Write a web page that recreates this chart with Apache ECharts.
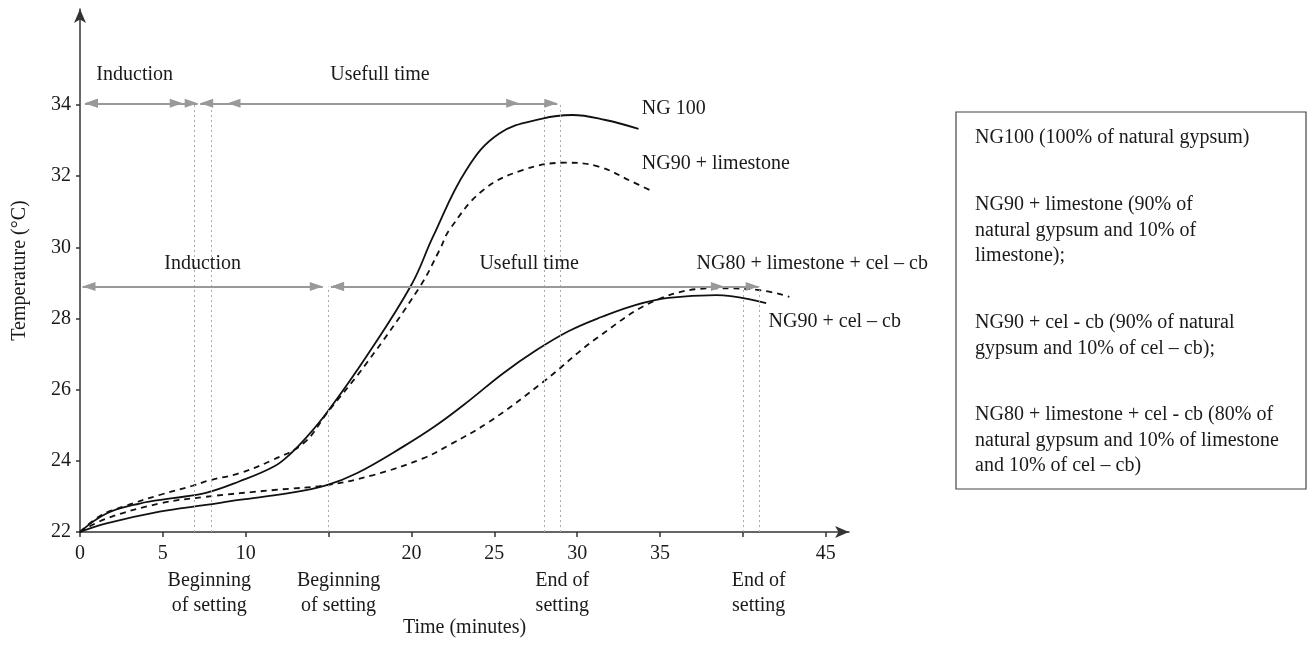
<!DOCTYPE html>
<html>
<head>
<meta charset="utf-8">
<script src="https://cdn.jsdelivr.net/npm/echarts@6/dist/echarts.min.js"></script>
<style>
  html, body { margin: 0; padding: 0; background: #fff; }
  #chart { width: 1309px; height: 648px; }
</style>
</head>
<body>
<div id="chart"></div>
<script>
// [time (min), temperature (°C)]
const ng100 = [[0, 22.0], [1.6, 22.52], [3.6, 22.8], [5.6, 22.95], [7.6, 23.1], [9.6, 23.42], [11.7, 23.84],
  [12.7, 24.2], [13.7, 24.68], [14.9, 25.36], [17.3, 26.95], [20.0, 28.95], [21.3, 30.3], [23.3, 32.17],
  [25.3, 33.2], [27.9, 33.62], [29.7, 33.72], [31.7, 33.58], [33.7, 33.33]];
const ng90Limestone = [[0, 22.0], [1.2, 22.45], [2.6, 22.71], [4.8, 23.04], [6.8, 23.3], [7.8, 23.45], [9.6, 23.65],
  [11.5, 24.0], [13.5, 24.5], [14.9, 25.34], [17.3, 26.75], [20.5, 28.89], [21.7, 29.93], [22.3, 30.5],
  [24.3, 31.6], [26.7, 32.17], [29.3, 32.38], [31.3, 32.27], [33.3, 31.85], [34.6, 31.56]];
const ng90CelCb = [[0, 22.0], [1.6, 22.24], [4.8, 22.57], [7.6, 22.76], [9.6, 22.9], [12.6, 23.09], [14.9, 23.32],
  [16.7, 23.65], [19.5, 24.4], [21.5, 25.0], [23.5, 25.7], [25.5, 26.45], [27.5, 27.1], [29.5, 27.65],
  [31.5, 28.05], [33.5, 28.38], [35.5, 28.58], [38.4, 28.66], [41.4, 28.43]];
const ng80LimestoneCelCb = [[0, 22.0], [1.6, 22.38], [4.8, 22.8], [7.6, 22.99], [11.7, 23.18], [14.9, 23.32],
  [17.7, 23.6], [20.7, 24.07], [22.3, 24.45], [24.7, 25.1], [27.9, 26.2], [31.3, 27.49], [34.9, 28.54],
  [38.4, 28.85], [41.0, 28.8], [42.8, 28.61]];

const xTickValues = [0, 5, 10, 15, 20, 25, 30, 35, 40, 45];
const xLabelValues = [0, 5, 10, 20, 25, 30, 35, 45];
const yTickValues = [22, 24, 26, 28, 30, 32, 34];

// beginning / end of setting (dotted lines)
const settingUpper = [6.9, 7.9, 28, 29];
const settingLower = [15, 40, 41];
const upperArrowY = 34.05;
const lowerArrowY = 28.9;
// arrow spans [from, to]
const upperArrows = [[0.3, 6.2], [0.3, 7.1], [7.25, 26.5], [8.9, 28.8]];
const lowerArrows = [[0.15, 14.65], [15.15, 38.85], [15.15, 40.95]];

const phaseLabels = [
  { name: 'Induction', value: [3.3, 34.85] },
  { name: 'Usefull time', value: [18.1, 34.85] },
  { name: 'Induction', value: [7.4, 29.55] },
  { name: 'Usefull time', value: [27.1, 29.55] }
];
const curveLabels = [
  { name: 'NG 100', value: [33.9, 33.9] },
  { name: 'NG90 + limestone', value: [33.9, 32.35] },
  { name: 'NG80 + limestone + cel \u2013 cb', value: [37.2, 29.55] },
  { name: 'NG90 + cel \u2013 cb', value: [41.55, 27.9] }
];
const settingLabels = [
  { name: 'Beginning\nof setting', value: [7.8, 22] },
  { name: 'Beginning\nof setting', value: [15.6, 22] },
  { name: 'End of\nsetting', value: [29.1, 22] },
  { name: 'End of\nsetting', value: [40.95, 22] }
];
const legendBlocks = [
  ['NG100 (100% of natural gypsum)'],
  ['NG90 + limestone (90% of', 'natural gypsum and 10% of', 'limestone);'],
  ['NG90 + cel - cb (90% of natural', 'gypsum and 10% of cel \u2013 cb);'],
  ['NG80 + limestone + cel - cb (80% of', 'natural gypsum and 10% of limestone', 'and 10% of cel \u2013 cb)']
];

const FONT = 'Liberation Serif';
const INK = '#1a1a1a';
const textStyle = { fontFamily: FONT, fontSize: 20, color: INK };

const guides = [];
settingUpper.forEach(x => guides.push([{ coord: [x, 22] }, { coord: [x, upperArrowY] }]));
settingLower.forEach(x => guides.push([{ coord: [x, 22] }, { coord: [x, lowerArrowY] }]));

const arrows = [];
upperArrows.forEach(a => arrows.push([{ coord: [a[0], upperArrowY] }, { coord: [a[1], upperArrowY] }]));
lowerArrows.forEach(a => arrows.push([{ coord: [a[0], lowerArrowY] }, { coord: [a[1], lowerArrowY] }]));

function curve(name, data, dashed) {
  return {
    name: name,
    type: 'line',
    data: data,
    smooth: 0.4,
    showSymbol: false,
    z: 4,
    lineStyle: { color: '#111', width: 1.8, type: dashed ? [6, 5] : 'solid' }
  };
}

function labelSeries(data, label) {
  return {
    type: 'scatter',
    data: data,
    symbolSize: 0,
    clip: false,
    silent: true,
    z: 5,
    itemStyle: { opacity: 1 },
    label: Object.assign({ show: true, formatter: '{b}', opacity: 1 }, textStyle, label)
  };
}

// legend box, built as plain graphics
const legendGraphics = [{
  type: 'rect',
  shape: { x: 956, y: 112, width: 350, height: 377 },
  style: { fill: 'none', stroke: '#444', lineWidth: 1.2 }
}];
const blockTops = [138, 205, 323, 415];
legendBlocks.forEach((lines, i) => {
  legendGraphics.push({
    type: 'text',
    x: 975,
    y: blockTops[i] - 12.75,
    style: {
      text: lines.join('\n'),
      font: '20px "' + FONT + '"',
      fill: INK,
      lineHeight: 25.5,
      align: 'left',
      verticalAlign: 'top'
    }
  });
});

const chart = echarts.init(document.getElementById('chart'));
chart.setOption({
  animation: false,
  backgroundColor: '#fff',
  grid: { left: 80, top: 9, right: 460, bottom: 116, outerBoundsMode: 'none' },
  xAxis: {
    type: 'value',
    min: 0,
    max: 46.4,
    name: 'Time (minutes)',
    nameLocation: 'middle',
    nameGap: 86,
    nameTextStyle: textStyle,
    splitLine: { show: false },
    axisLine: { symbol: ['none', 'arrow'], symbolSize: [9, 14], lineStyle: { color: '#333', width: 1.5 } },
    axisTick: { show: true, length: 5, customValues: xTickValues, lineStyle: { color: '#333', width: 1.5 } },
    axisLabel: Object.assign({ margin: 12, customValues: xLabelValues }, textStyle)
  },
  yAxis: {
    type: 'value',
    min: 22,
    max: 36.7,
    name: 'Temperature (\u00b0C)',
    nameLocation: 'middle',
    nameRotate: 90,
    nameGap: 50,
    nameTextStyle: textStyle,
    splitLine: { show: false },
    axisLine: { show: true, symbol: ['none', 'arrow'], symbolSize: [9, 14], lineStyle: { color: '#333', width: 1.5 } },
    axisTick: { show: true, length: 4, customValues: yTickValues, lineStyle: { color: '#333', width: 1.5 } },
    axisLabel: Object.assign({ margin: 9, customValues: yTickValues }, textStyle)
  },
  graphic: legendGraphics,
  series: [
    {
      name: 'guides',
      type: 'line',
      data: [],
      z: 1,
      markLine: {
        silent: true,
        symbol: 'none',
        label: { show: false },
        animation: false,
        lineStyle: { type: [2, 3], color: '#aaa', width: 1 },
        data: guides
      }
    },
    {
      name: 'arrows',
      type: 'line',
      data: [],
      z: 2,
      markLine: {
        silent: true,
        symbol: ['triangle', 'triangle'],
        symbolSize: [9, 13],
        symbolOffset: [[0, 6.5], [0, 6.5]],
        label: { show: false },
        animation: false,
        lineStyle: { type: 'solid', color: '#999', width: 2 },
        data: arrows
      }
    },
    curve('NG 100', ng100, false),
    curve('NG90 + limestone', ng90Limestone, true),
    curve('NG90 + cel \u2013 cb', ng90CelCb, false),
    curve('NG80 + limestone + cel \u2013 cb', ng80LimestoneCelCb, true),
    labelSeries(phaseLabels, { position: 'inside' }),
    labelSeries(curveLabels, { position: 'right', distance: 0 }),
    labelSeries(settingLabels, { position: 'bottom', distance: 36, lineHeight: 25, align: 'center' })
  ]
});
</script>
</body>
</html>
